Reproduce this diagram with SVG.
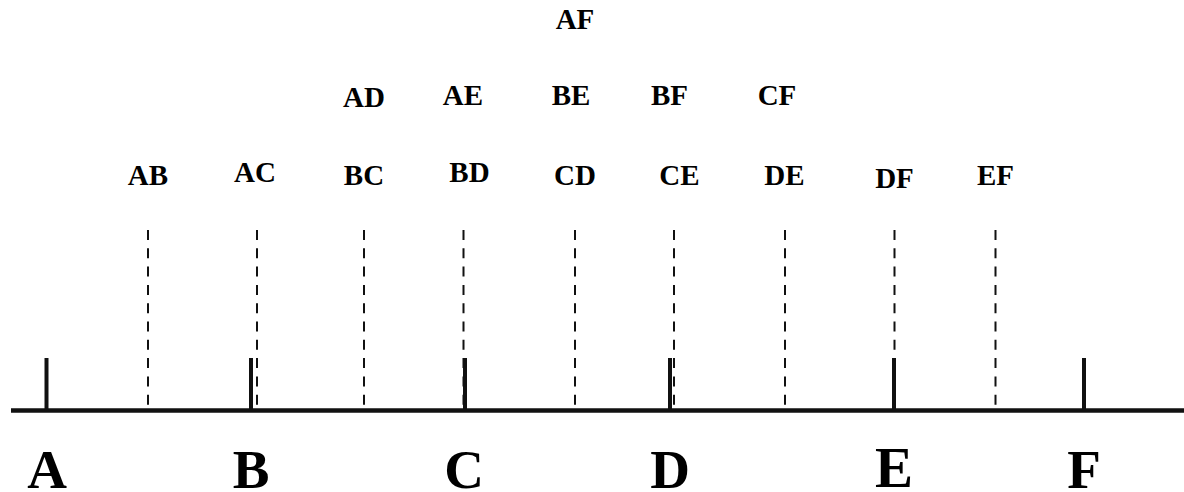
<svg xmlns="http://www.w3.org/2000/svg" width="1184" height="492" viewBox="0 0 1184 492">
<style>
.axis{stroke:#111;stroke-width:4.5;fill:none}
.tick{stroke:#111;stroke-width:4;fill:none}
.dash{stroke:#111;stroke-width:2;stroke-dasharray:10 8.3;fill:none}
.lbl{font-family:"Liberation Serif","Times New Roman",serif;font-weight:bold;font-size:29px;fill:#000;text-anchor:middle}
.big{font-family:"Liberation Serif","Times New Roman",serif;font-weight:bold;font-size:55px;fill:#000;text-anchor:middle}
</style>
<rect width="1184" height="492" fill="#fff"/>
<g id="connectors">
<line class="axis" x1="11" y1="410.5" x2="1184" y2="410.5"/>
<line class="dash" x1="148" y1="230" x2="148" y2="406"/>
<line class="dash" x1="257" y1="230" x2="257" y2="406"/>
<line class="dash" x1="364" y1="230" x2="364" y2="406"/>
<line class="dash" x1="463.5" y1="230" x2="463.5" y2="406"/>
<line class="dash" x1="575" y1="230" x2="575" y2="406"/>
<line class="dash" x1="674" y1="230" x2="674" y2="406"/>
<line class="dash" x1="785" y1="230" x2="785" y2="406"/>
<line class="dash" x1="894.5" y1="230" x2="894.5" y2="406"/>
<line class="dash" x1="995.5" y1="230" x2="995.5" y2="406"/>
</g>
<g id="node-A"><line class="tick" x1="46.5" y1="358" x2="46.5" y2="410"/><text class="big" x="47" y="488">A</text></g>
<g id="node-B"><line class="tick" x1="251" y1="358" x2="251" y2="410"/><text class="big" x="251" y="488">B</text></g>
<g id="node-C"><line class="tick" x1="465" y1="358" x2="465" y2="410"/><text class="big" x="464" y="488">C</text></g>
<g id="node-D"><line class="tick" x1="670" y1="358" x2="670" y2="410"/><text class="big" x="670" y="488">D</text></g>
<g id="node-E"><line class="tick" x1="894" y1="358" x2="894" y2="410"/><text class="big" x="894" y="487" style="font-size:57px">E</text></g>
<g id="node-F"><line class="tick" x1="1084" y1="358" x2="1084" y2="410"/><text class="big" x="1084" y="488">F</text></g>
<g id="labels">
<text id="lbl-AF" class="lbl" x="575" y="29">AF</text>
<text id="lbl-AD" class="lbl" x="364" y="106.5">AD</text>
<text id="lbl-AE" class="lbl" x="463" y="105">AE</text>
<text id="lbl-BE" class="lbl" x="571" y="105">BE</text>
<text id="lbl-BF" class="lbl" x="669.5" y="105">BF</text>
<text id="lbl-CF" class="lbl" x="777" y="105">CF</text>
<text id="lbl-AB" class="lbl" x="148" y="185">AB</text>
<text id="lbl-AC" class="lbl" x="255" y="181.5">AC</text>
<text id="lbl-BC" class="lbl" x="364" y="185">BC</text>
<text id="lbl-BD" class="lbl" x="469.5" y="181.5">BD</text>
<text id="lbl-CD" class="lbl" x="575" y="185">CD</text>
<text id="lbl-CE" class="lbl" x="679.5" y="185">CE</text>
<text id="lbl-DE" class="lbl" x="784.5" y="185">DE</text>
<text id="lbl-DF" class="lbl" x="894.5" y="188">DF</text>
<text id="lbl-EF" class="lbl" x="995.5" y="185">EF</text>
</g>
</svg>
